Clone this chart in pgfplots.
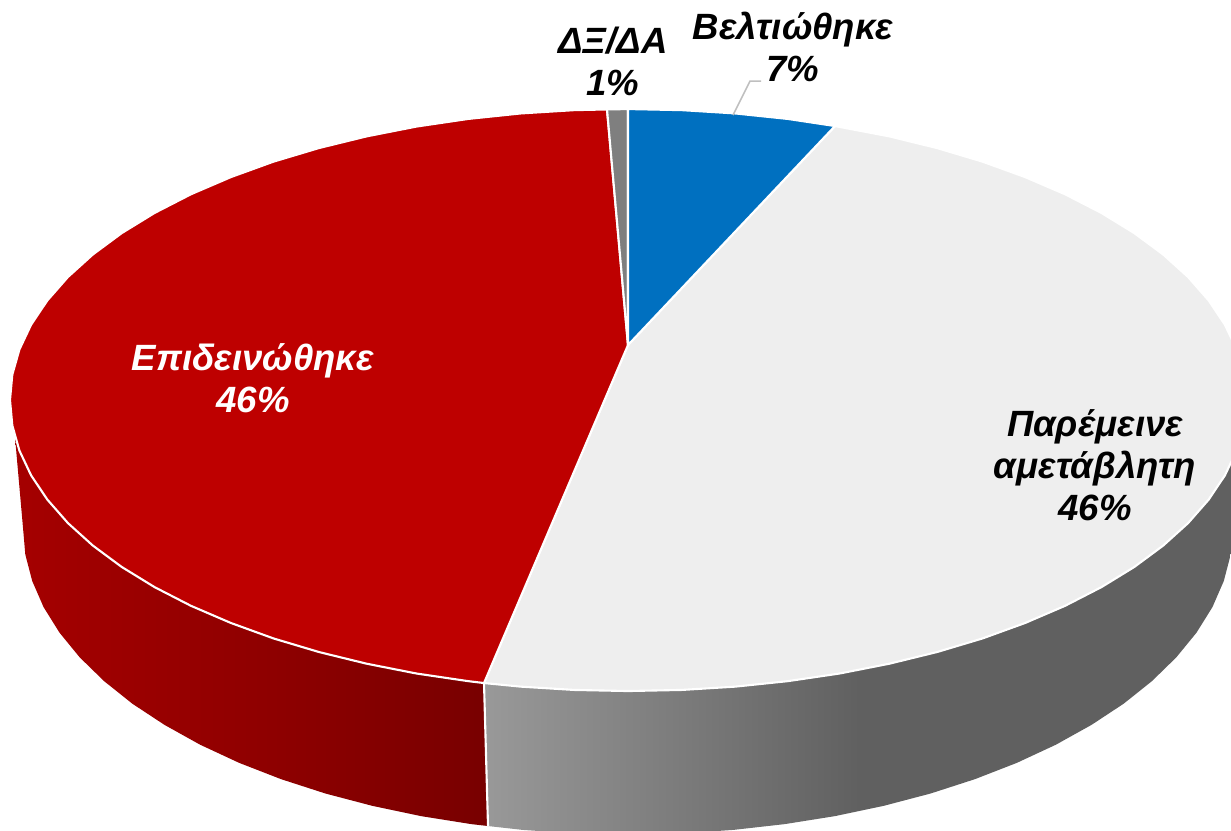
\documentclass[border=0pt]{standalone}
\usepackage{fontspec}
\setmainfont{Liberation Sans}
\usepackage{pgfplots}
\pgfplotsset{compat=1.18}
\definecolor{pieblue}{HTML}{0070C0}
\definecolor{piered}{HTML}{BE0000}
\definecolor{piegray}{HTML}{EEEEEE}
\definecolor{piedk}{HTML}{7F7F7F}
\definecolor{redA}{HTML}{A50000}
\definecolor{redB}{HTML}{900000}
\definecolor{redC}{HTML}{780000}
\definecolor{grayA}{HTML}{999999}
\definecolor{grayB}{HTML}{606060}
\definecolor{leader}{HTML}{BFBFBF}
\begin{document}
\begin{tikzpicture}
\begin{axis}[
  hide axis, scale only axis, width=12.31cm, height=8.3cm,
  xmin=0, xmax=1231, ymin=0, ymax=830, y dir=reverse,
  clip=true,
  nodes={font=\fontsize{10.4}{12}\selectfont\bfseries\itshape, align=center, inner sep=0pt},
]
% side walls
\addplot[draw=none, left color=redA, right color=redC, middle color=redB] coordinates {
  (15,437)(23,527.6)(25.3,554.4)(32.2,580.9)(43.6,607.1)(59.5,632.6)(79.7,657.3)(104.1,681.1)
  (132.4,703.7)(164.6,724.9)(200.2,744.7)(239.1,762.8)(281,779.1)(325.5,793.5)(372.3,805.8)
  (421.1,816.1)(471.4,824.1)(488,826)(484,683)(468.1,681.1)(416.6,673.5)(366.8,663.7)(319,652)
  (273.5,638.4)(230.8,622.9)(191,605.8)(154.6,587.1)(121.7,566.9)(92.8,545.5)(67.9,523)
  (47.3,499.5)(31.1,475.3)(19.4,450.5)
} --cycle;
\addplot[draw=none, left color=grayA, right color=grayB, middle color=grayB] coordinates {
  (484,683)(488,826)(522.9,829.9)(575.3,833.4)(628,834.6)(680.7,833.4)(733.1,829.9)(784.6,824.1)
  (834.9,816.1)(883.7,805.8)(930.5,793.5)(975,779.1)(1016.9,762.8)(1055.8,744.7)(1091.4,724.9)
  (1123.6,703.7)(1151.9,681.1)(1176.3,657.3)(1196.5,632.6)(1212.4,607.1)(1223.8,580.9)(1230.7,554.4)
  (1233,527.6)(1236.6,450.5)(1224.9,475.3)(1208.7,499.5)(1188.1,523)(1163.2,545.5)(1134.3,566.9)
  (1101.4,587.1)(1065,605.8)(1025.2,622.9)(982.5,638.4)(937,652)(889.2,663.7)(839.4,673.5)
  (787.9,681.1)(735.3,686.6)(681.9,689.9)(628,691)(574.1,689.9)(520.7,686.6)
} --cycle;
\addplot[white, line width=0.6pt] coordinates {(484,683)(488,826)};
% top slices
\addplot[draw=white, line width=0.6pt, fill=piegray] coordinates {
  (628,345)(835,126)(889.2,136.3)(937,148)(982.5,161.6)(1025.2,177.1)(1065,194.2)(1101.4,212.9)
  (1134.3,233.1)(1163.2,254.5)(1188.1,277)(1208.7,300.5)(1224.9,324.7)(1236.6,349.5)(1243.7,374.6)
  (1246,400)(1243.7,425.4)(1236.6,450.5)(1224.9,475.3)(1208.7,499.5)(1188.1,523)(1163.2,545.5)
  (1134.3,566.9)(1101.4,587.1)(1065,605.8)(1025.2,622.9)(982.5,638.4)(937,652)(889.2,663.7)
  (839.4,673.5)(787.9,681.1)(735.3,686.6)(681.9,689.9)(628,691)(574.1,689.9)(520.7,686.6)(484,683)
} --cycle;
\addplot[draw=white, line width=0.6pt, fill=piered] coordinates {
  (628,345)(484,683)(468.1,681.1)(416.6,673.5)(366.8,663.7)(319,652)(273.5,638.4)(230.8,622.9)
  (191,605.8)(154.6,587.1)(121.7,566.9)(92.8,545.5)(67.9,523)(47.3,499.5)(31.1,475.3)(19.4,450.5)
  (12.3,425.4)(10,400)(12.3,374.6)(19.4,349.5)(31.1,324.7)(47.3,300.5)(67.9,277)(92.8,254.5)
  (121.7,233.1)(154.6,212.9)(191,194.2)(230.8,177.1)(273.5,161.6)(319,148)(366.8,136.3)
  (416.6,126.5)(468.1,118.9)(520.7,113.4)(574.1,110.1)(607,109.4)
} --cycle;
\addplot[draw=white, line width=0.6pt, fill=piedk] coordinates {(628,345)(607,109.4)(628,109)} --cycle;
\addplot[draw=white, line width=0.6pt, fill=pieblue] coordinates {
  (628,345)(628,109)(681.9,110.1)(735.3,113.4)(787.9,118.9)(835,126)
} --cycle;
% leader line
\addplot[color=leader, line width=0.45pt] coordinates {(733,115)(750,81)(761,81)};
% labels
\node at (axis cs:793,47) {Βελτιώθηκε\\7\%};
\node at (axis cs:613,61) {ΔΞ/ΔΑ\\1\%};
\node[white] at (axis cs:253,378) {Επιδεινώθηκε\\46\%};
\node at (axis cs:1095,465) {Παρέμεινε\\αμετάβλητη\\46\%};
\end{axis}
\pgfresetboundingbox
\path[use as bounding box] (0,0) rectangle (12.31cm,8.3cm);
\end{tikzpicture}
\end{document}
